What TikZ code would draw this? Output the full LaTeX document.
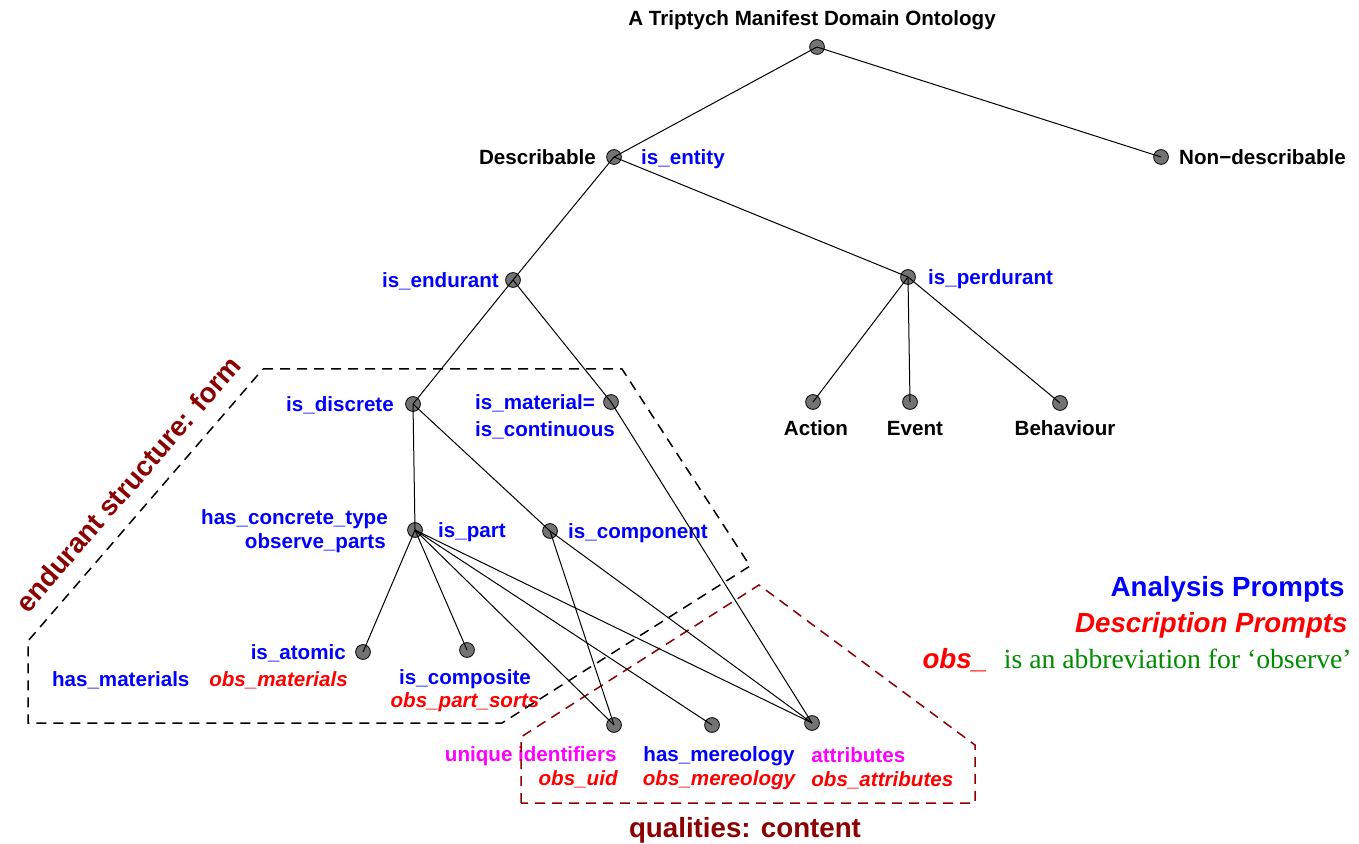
\documentclass[tikz,border=0pt]{standalone}
\usepackage{fontspec}
\setsansfont{Liberation Sans}
\newfontfamily\abbrfont{Liberation Serif}
\usetikzlibrary{positioning}
\definecolor{darkred}{RGB}{139,0,0}
\definecolor{abbrgreen}{RGB}{0,140,0}
\definecolor{qualmagenta}{RGB}{255,0,255}

\begin{document}
\begin{tikzpicture}[x=0.5pt, y=-0.5pt,
  dot/.style = {circle, draw, fill=black!55, inner sep=0pt,
    minimum size=7.4pt, line width=0.4pt},
  lbl/.style = {inner sep=0pt, text height=7.4pt, text depth=0pt,
    font=\sffamily\bfseries\fontsize{10.3}{12}\selectfont},
  ana/.style = {lbl, text=blue},
  dsc/.style = {lbl, text=red,
    font=\sffamily\bfseries\itshape\fontsize{10.3}{12}\selectfont},
  qua/.style = {lbl, text=qualmagenta},
  big/.style = {inner sep=0pt, text height=9.9pt, text depth=0pt,
    font=\sffamily\bfseries\fontsize{13.85}{16}\selectfont},
  bigdsc/.style = {big, text=red,
    font=\sffamily\bfseries\itshape\fontsize{13.85}{16}\selectfont},
  edge/.style = {line width=0.5pt},
  form/.style = {draw=black, line width=0.75pt, dash pattern=on 5pt off 3.5pt},
  content/.style = {form, draw=darkred}
  ]
  \useasboundingbox (0,0) rectangle (1359,844);

  \node[dot] (root) at (817,47) {};
  \node[dot] (desc) at (614,157) {};
  \node[dot] (nondesc) at (1161,157) {};
  \node[dot] (endur) at (513,280) {};
  \node[dot] (perdur) at (908,277) {};
  \node[dot] (action) at (813,402) {};
  \node[dot] (event) at (910,402) {};
  \node[dot] (behav) at (1060,403) {};
  \node[dot] (discrete) at (413,404) {};
  \node[dot] (material) at (611,402) {};
  \node[dot] (part) at (415,530) {};
  \node[dot] (component) at (550,531) {};
  \node[dot] (atomic) at (363,652) {};
  \node[dot] (composite) at (467,650) {};
  \node[dot] (uid) at (614,725) {};
  \node[dot] (mereo) at (712,725) {};
  \node[dot] (attr) at (812,723) {};

  \node[lbl] (title) [above=6.8pt of root, xshift=-2.5pt] {A Triptych Manifest Domain Ontology};
  \node[lbl] (desclbl) [left=5pt of desc] {Describable};
  \node[ana] (entlbl) [right=9.5pt of desc] {is\_entity};
  \node[lbl] (ndlbl) [right=5pt of nondesc] {Non−describable};
  \node[ana] (endlbl) [left=3pt of endur] {is\_endurant};
  \node[ana] (perlbl) [right=6pt of perdur] {is\_perdurant};
  \node[lbl] (actlbl) [below=5.5pt of action, xshift=1.5pt] {Action};
  \node[lbl] (evtlbl) [below=5.5pt of event, xshift=2.5pt] {Event};
  \node[lbl] (behlbl) [below=5pt of behav, xshift=2.5pt] {Behaviour};
  \node[ana] (dislbl) [left=5.5pt of discrete] {is\_discrete};
  \node[ana] (matlbl) [left=4pt of material] {is\_material=};
  \node[ana] (contlbl) [left=-6pt of material, yshift=-13.5pt] {is\_continuous};
  \node[ana] (typelbl) [left=9.5pt of part, yshift=6.5pt] {has\_concrete\_type};
  \node[ana] (obsplbl) [left=10.5pt of part, yshift=-5.5pt] {observe\_parts};
  \node[ana] (partlbl) [right=7.5pt of part] {is\_part};
  \node[ana] (complbl) [right=5pt of component] {is\_component};
  \node[ana] (atomlbl) [left=4.5pt of atomic] {is\_atomic};
  \node[dsc] (obsmat) [left=3.5pt of atomic, yshift=-13.5pt] {obs\_materials};
  \node[ana] (hasmat) [left=9.5pt of obsmat] {has\_materials};
  \node[ana] (compolbl) [below=5.5pt of composite, xshift=-1pt] {is\_composite};
  \node[dsc] (sortslbl) [below=4pt of compolbl] {obs\_part\_sorts};
  \node[qua] (uidlbl) [below=6.5pt of uid, anchor=north east, xshift=1.5pt] {unique identifiers};
  \node[dsc] (obsuid) [below=4.6pt of uidlbl.south east, anchor=north east, xshift=0.5pt] {obs\_uid};
  \node[ana] (merlbl) [below=6.5pt of mereo, xshift=3.5pt] {has\_mereology};
  \node[dsc] (obsmer) [below=4.6pt of merlbl] {obs\_mereology};
  \node[qua] (attlbl) [below=8pt of attr, anchor=north west, xshift=-0.5pt] {attributes};
  \node[dsc] (obsatt) [below=4.6pt of attlbl.south west, anchor=north west] {obs\_attributes};

  \node[big, text=blue, anchor=east] (anap) at (1345,587) {Analysis Prompts};
  \node[bigdsc] (dscp) [below=7.6pt of anap.south east, anchor=north east, xshift=1.5pt] {Description Prompts};
  \node[big, text=abbrgreen, font=\abbrfont\fontsize{13.85}{16}\selectfont] (abbr)
    [below=7.5pt of dscp.south east, anchor=north east, xshift=2pt] {is an abbreviation for ‘observe’};
  \node[bigdsc] (obslbl) [left=10pt of abbr, xshift=2pt] {obs\_};
  \node[big, text=darkred] (contentlbl) at (745,828) {qualities: content};
  \node[big, text=darkred, rotate=49] (formlbl) at (128,484) {endurant structure: form};

  \draw[form] (263,369) -- (622,369) -- (750,566) -- (502,723) -- (28,723) -- (28,641) -- cycle;
  \draw[content] (521,803) -- (521,737) -- (759,585) -- (975,745) -- (975,803) -- cycle;

  \draw[edge] (root.center) -- (desc.center);
  \draw[edge] (root.center) -- (nondesc.center);
  \draw[edge] (desc.center) -- (endur.center);
  \draw[edge] (desc.center) -- (perdur.center);
  \draw[edge] (perdur.center) -- (action.center);
  \draw[edge] (perdur.center) -- (event.center);
  \draw[edge] (perdur.center) -- (behav.center);
  \draw[edge] (endur.center) -- (discrete.center);
  \draw[edge] (endur.center) -- (material.center);
  \draw[edge] (discrete.center) -- (part.center);
  \draw[edge] (discrete.center) -- (component.center);
  \draw[edge] (material.center) -- (attr.center);
  \draw[edge] (part.center) -- (atomic.center);
  \draw[edge] (part.center) -- (composite.center);
  \draw[edge] (part.center) -- (uid.center);
  \draw[edge] (part.center) -- (mereo.center);
  \draw[edge] (part.center) -- (attr.center);
  \draw[edge] (component.center) -- (uid.center);
  \draw[edge] (component.center) -- (attr.center);
\end{tikzpicture}
\end{document}
